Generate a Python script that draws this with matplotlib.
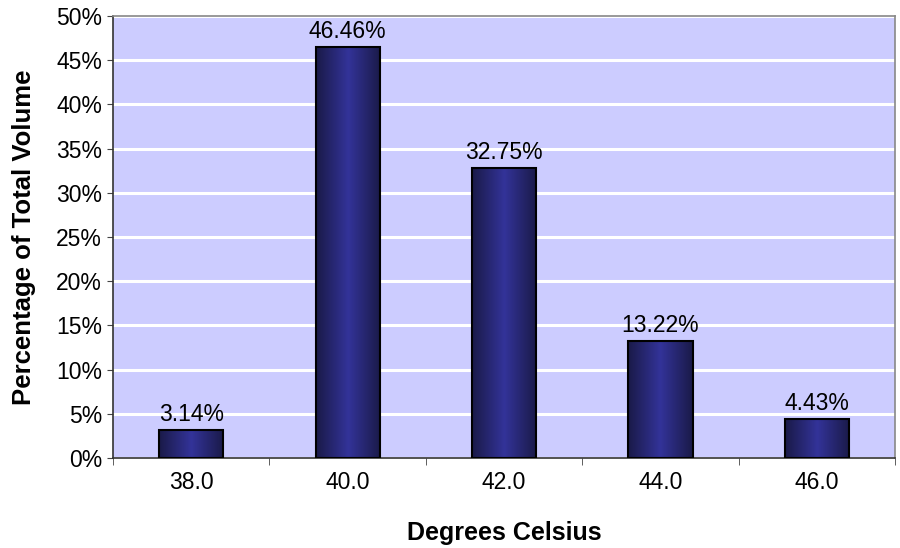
import numpy as np
import matplotlib.pyplot as plt
from matplotlib.colors import LinearSegmentedColormap
from matplotlib.ticker import PercentFormatter, MultipleLocator

plt.rcParams['font.family'] = ['Liberation Sans', 'DejaVu Sans']

temps = ['38.0', '40.0', '42.0', '44.0', '46.0']
pct = [3.14, 46.46, 32.75, 13.22, 4.43]

fig = plt.figure(figsize=(9, 5.48), dpi=100)
ax = fig.add_axes([0.1256, 0.1642, 0.8689, 0.8066])
ax.set_facecolor('#CCCCFF')

x = np.arange(len(temps))
bars = ax.bar(x, pct, width=0.41, facecolor='none', edgecolor='black', linewidth=1.5, zorder=3)

# horizontal shading inside each bar: dark edges, lighter middle
cmap = LinearSegmentedColormap.from_list('barshade', ['#1a1a48', '#333399', '#1a1a48'])
grad = np.linspace(0, 1, 256).reshape(1, -1)
for b in bars:
    x0, w, h = b.get_x(), b.get_width(), b.get_height()
    im = ax.imshow(grad, cmap=cmap, aspect='auto', extent=[x0, x0 + w, 0, h], zorder=2)
    im.set_clip_path(b)

for xi, v in zip(x, pct):
    ax.annotate('%.2f%%' % v, (xi, v), xytext=(0, 3), textcoords='offset points',
                ha='center', va='bottom', fontsize=16.5)

ax.set_xlim(-0.5, len(temps) - 0.5)
ax.set_ylim(0, 50)
ax.yaxis.set_major_locator(MultipleLocator(5))
ax.yaxis.set_major_formatter(PercentFormatter(decimals=0))
ax.grid(axis='y', color='white', linewidth=2.2, zorder=1)
ax.set_axisbelow(True)

ax.set_xticks(x)
ax.set_xticklabels(temps)
ax.set_xticks(np.arange(len(temps) + 1) - 0.5, minor=True)
ax.tick_params(axis='x', which='major', length=0, pad=9, labelsize=16.5)
ax.tick_params(axis='x', which='minor', length=5, direction='out', color='#444444')
ax.tick_params(axis='y', length=4.5, direction='out', labelsize=16.5, pad=3.5, color='#444444')

ax.spines['top'].set_color('#888888')
ax.spines['right'].set_color('#888888')
ax.spines['left'].set_color('#333333')
ax.spines['bottom'].set_color('#333333')
for s in ax.spines.values():
    s.set_linewidth(1.2)

ax.set_xlabel('Degrees Celsius', fontsize=18, fontweight='bold', labelpad=20)
ax.set_ylabel('Percentage of Total Volume', fontsize=18.5, fontweight='bold', labelpad=14)

fig.savefig('out.png', dpi=100)
